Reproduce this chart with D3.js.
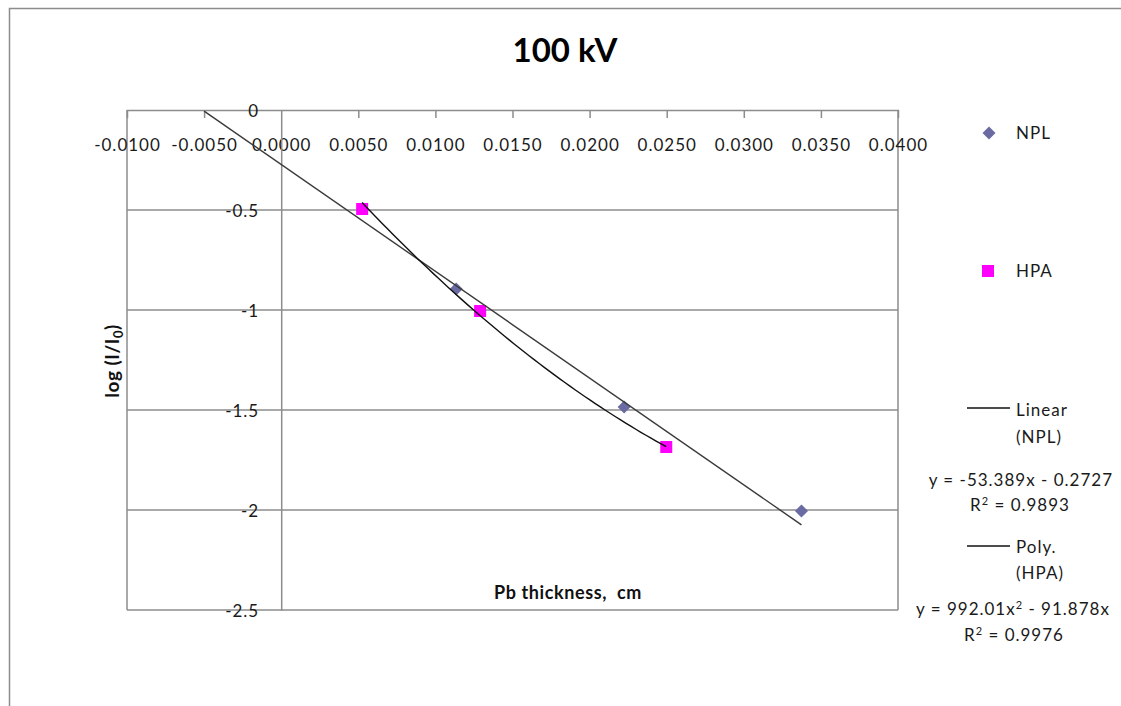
<!DOCTYPE html>
<html>
<head>
<meta charset="utf-8">
<script src="https://cdn.jsdelivr.net/npm/d3@7/dist/d3.min.js"></script>
<style>
  html, body { margin: 0; padding: 0; background: #fff; }
  svg { display: block; }
  text { font-family: Lato, "Open Sans", sans-serif; fill: #1a1a1a; }
</style>
</head>
<body>
<svg id="chart" width="1121" height="706"></svg>
<script>
// Attenuation in lead at 100 kV: log(I/I0) against Pb thickness (cm)
const chartTitle = "100 kV";

// Measured points
const nplThickness = [0.01135, 0.02224, 0.03374];
const nplLogRatio = [-0.895, -1.485, -2.005];
const hpaThickness = [0.00525, 0.0129, 0.02497];
const hpaLogRatio = [-0.495, -1.005, -1.685];

// Trendline coefficients
const linearNPL = { slope: -53.389, intercept: -0.2727, from: -0.005 };
const polyHPA = [992.01, -91.878, -0.008]; // a x^2 + b x + c

// Axis ticks
const xTicks = [-0.01, -0.005, 0, 0.005, 0.01, 0.015, 0.02, 0.025, 0.03, 0.035, 0.04];
const xTickLabels = ["-0.0100", "-0.0050", "0.0000", "0.0050", "0.0100", "0.0150", "0.0200", "0.0250", "0.0300", "0.0350", "0.0400"];
const yTicks = [0, -0.5, -1, -1.5, -2, -2.5];
const yTickLabels = ["0", "-0.5", "-1", "-1.5", "-2", "-2.5"];

// Legend and trendline labels
const seriesNames = ["NPL", "HPA"];
const linearLabel = ["Linear", "(NPL)"];
const polyLabel = ["Poly.", "(HPA)"];
const linearEq = ["y = -53.389x - 0.2727", "0.9893"];
const polyEq = ["0.9976"];

const svg = d3.select("#chart");
const gridColor = "#8c8c8c";
const nplColor = "#6b6ba3";
const hpaColor = "#ff00ff";

const x = d3.scaleLinear().domain([-0.01, 0.04]).range([127, 898]);
const y = d3.scaleLinear().domain([0, -2.5]).range([110, 610]);

// Outer chart frame
svg.append("rect")
  .attr("x", 9.5).attr("y", 8.5)
  .attr("width", 1300).attr("height", 900)
  .attr("fill", "none").attr("stroke", "#8c8c8c").attr("stroke-width", 1.5);

// Title
svg.append("text")
  .attr("x", 565).attr("y", 62)
  .attr("text-anchor", "middle")
  .attr("font-size", 33).attr("font-weight", "bold")
  .style("fill", "#000")
  .text(chartTitle);

// Horizontal gridlines
svg.append("g").selectAll("line")
  .data(yTicks.filter(d => d !== 0))
  .join("line")
  .attr("x1", x.range()[0]).attr("x2", x.range()[1])
  .attr("y1", d => y(d)).attr("y2", d => y(d))
  .attr("stroke", gridColor).attr("stroke-width", 1.5);

// Plot area border (left, right)
svg.append("line")
  .attr("x1", x.range()[0]).attr("x2", x.range()[0])
  .attr("y1", y(0)).attr("y2", y(-2.5))
  .attr("stroke", gridColor).attr("stroke-width", 1.5);
svg.append("line")
  .attr("x1", x.range()[1]).attr("x2", x.range()[1])
  .attr("y1", y(0)).attr("y2", y(-2.5))
  .attr("stroke", gridColor).attr("stroke-width", 1.5);

// X axis along y = 0 with ticks pointing down into the plot
const xAxis = d3.axisBottom(x)
  .tickValues(xTicks)
  .tickSize(8)
  .tickPadding(0)
  .tickFormat((d, i) => xTickLabels[i]);
const gx = svg.append("g").attr("transform", `translate(0,${y(0)})`).call(xAxis);
gx.select(".domain").attr("stroke", gridColor).attr("stroke-width", 1.5);
gx.selectAll(".tick line").attr("stroke", gridColor).attr("stroke-width", 1.5);
gx.selectAll(".tick").filter(d => d === -0.01 || d === 0.04 || d === 0).select("line").remove();
gx.selectAll(".tick text")
  .attr("y", 35).attr("dy", "0.35em")
  .attr("font-size", 17).attr("letter-spacing", 1)
  .style("fill", "#1a1a1a");

// Y axis crossing at x = 0
const yAxis = d3.axisLeft(y)
  .tickValues(yTicks)
  .tickSize(0)
  .tickPadding(22)
  .tickFormat((d, i) => yTickLabels[i]);
const gy = svg.append("g").attr("transform", `translate(${x(0)},0)`).call(yAxis);
gy.select(".domain").attr("stroke", gridColor).attr("stroke-width", 1.5);
gy.selectAll(".tick text")
  .attr("dy", "0.4em")
  .attr("font-size", 17).attr("letter-spacing", 1)
  .style("fill", "#1a1a1a");

// Axis titles
svg.append("text")
  .attr("x", 568).attr("y", 599)
  .attr("text-anchor", "middle")
  .attr("font-size", 18).attr("font-weight", "bold").attr("letter-spacing", 0.6)
  .attr("xml:space", "preserve")
  .style("fill", "#111")
  .text("Pb thickness,  cm");

const yTitle = svg.append("text")
  .attr("transform", "translate(119,361) rotate(-90)")
  .attr("text-anchor", "middle")
  .attr("font-size", 19).attr("font-weight", "bold").attr("letter-spacing", 0.5)
  .style("fill", "#111");
yTitle.append("tspan").text("log (I/I");
yTitle.append("tspan").attr("font-size", 13).attr("dy", 4).text("0");
yTitle.append("tspan").attr("dy", -4).text(")");

// Data markers
const diamondPath = d3.symbol().type(d3.symbolSquare).size(85);
svg.append("g").selectAll("path")
  .data(d3.zip(nplThickness, nplLogRatio))
  .join("path")
  .attr("d", diamondPath)
  .attr("transform", d => `translate(${x(d[0])},${y(d[1])}) rotate(45)`)
  .attr("fill", nplColor);

svg.append("g").selectAll("rect")
  .data(d3.zip(hpaThickness, hpaLogRatio))
  .join("rect")
  .attr("x", d => x(d[0]) - 6).attr("y", d => y(d[1]) - 6)
  .attr("width", 12).attr("height", 12)
  .attr("fill", hpaColor);

// Trendlines
const linX = [linearNPL.from, d3.max(nplThickness)];
svg.append("path")
  .datum(linX.map(t => [t, linearNPL.slope * t + linearNPL.intercept]))
  .attr("d", d3.line().x(d => x(d[0])).y(d => y(d[1])))
  .attr("fill", "none").attr("stroke", "#3a3a3a").attr("stroke-width", 1.4);

const [pa, pb, pc] = polyHPA;
const hpaLo = d3.min(hpaThickness), hpaHi = d3.max(hpaThickness);
const polyX = d3.range(0, 61).map(i => hpaLo + (hpaHi - hpaLo) * i / 60);
svg.append("path")
  .datum(polyX.map(t => [t, pa * t * t + pb * t + pc]))
  .attr("d", d3.line().x(d => x(d[0])).y(d => y(d[1])))
  .attr("fill", "none").attr("stroke", "#111").attr("stroke-width", 1.4);

// Legend
const legend = svg.append("g");
legend.append("path")
  .attr("d", diamondPath)
  .attr("transform", "translate(989,133) rotate(45)")
  .attr("fill", nplColor);
legend.append("rect")
  .attr("x", 982).attr("y", 265).attr("width", 12).attr("height", 12)
  .attr("fill", hpaColor);

legend.append("line").attr("x1", 967).attr("x2", 1010).attr("y1", 408).attr("y2", 408)
  .attr("stroke", "#111").attr("stroke-width", 1.5);
legend.append("line").attr("x1", 967).attr("x2", 1010).attr("y1", 546).attr("y2", 546)
  .attr("stroke", "#111").attr("stroke-width", 1.5);

function label(xp, yp, str, anchor) {
  return legend.append("text").attr("x", xp).attr("y", yp).attr("dy", "0.35em")
    .attr("text-anchor", anchor || "start")
    .attr("font-size", 17).attr("letter-spacing", 1).text(str);
}
label(1016, 133, seriesNames[0]);
label(1016, 271, seriesNames[1]);
label(1016, 410, linearLabel[0]);
label(1016, 437, linearLabel[1]);
label(1016, 547, polyLabel[0]);
label(1016, 573, polyLabel[1]);
label(1113, 480, linearEq[0], "end");

function r2(xp, yp, val) {
  const t = legend.append("text").attr("x", xp).attr("y", yp).attr("dy", "0.35em")
    .attr("text-anchor", "middle").attr("font-size", 17).attr("letter-spacing", 1);
  t.append("tspan").text("R");
  t.append("tspan").attr("font-size", 11).attr("dy", -6).text("2");
  t.append("tspan").attr("dy", 6).text(" = " + val);
}
r2(1020, 505, linearEq[1]);
r2(1014, 635, polyEq[0]);

// Polynomial equation; the chart frame clips it after the linear term
const peq = legend.append("text").attr("x", 916).attr("y", 609).attr("dy", "0.35em")
  .attr("font-size", 17).attr("letter-spacing", 1);
peq.append("tspan").text("y = " + d3.format(".2f")(pa) + "x");
peq.append("tspan").attr("font-size", 11).attr("dy", -6).text("2");
peq.append("tspan").attr("dy", 6).text(" - " + d3.format(".3f")(-pb) + "x");
</script>
</body>
</html>
